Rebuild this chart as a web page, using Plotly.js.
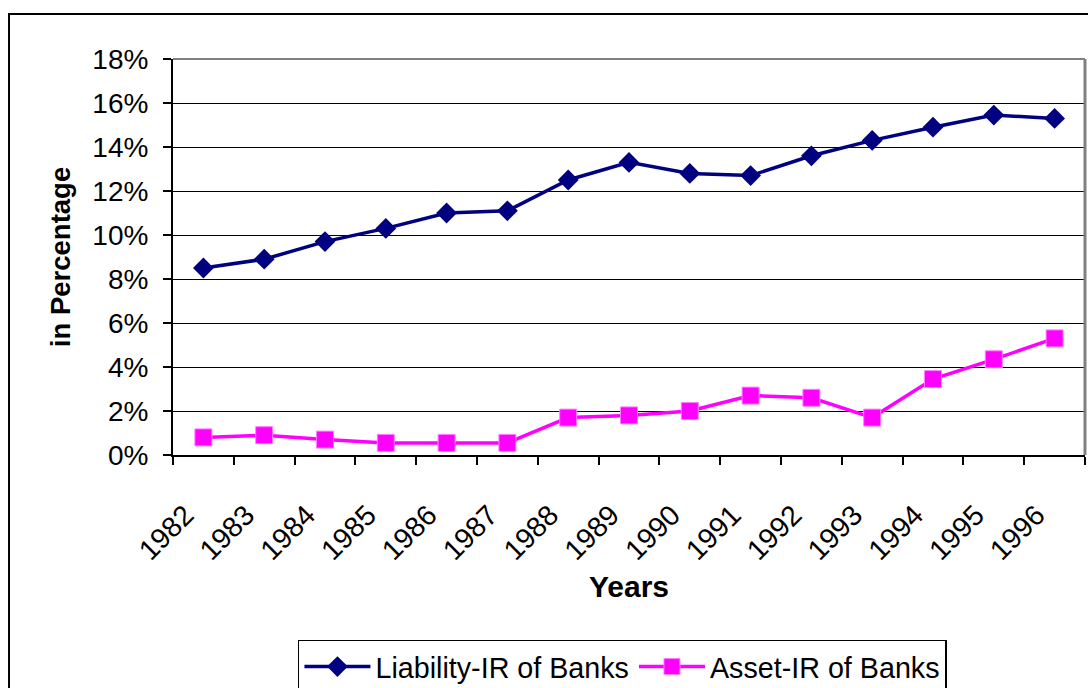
<!DOCTYPE html>
<html>
<head>
<meta charset="utf-8">
<script src="https://cdn.plot.ly/plotly-3.0.1.min.js"></script>
<style>html,body{margin:0;padding:0;background:#fff;}#chart{width:1088px;height:688px;}</style>
</head>
<body>
<div id="chart"></div>
<script>
const years = ["1982","1983","1984","1985","1986","1987","1988","1989","1990","1991","1992","1993","1994","1995","1996"];
const liabilityIR = [8.5, 8.9, 9.7, 10.3, 11.0, 11.1, 12.5, 13.3, 12.8, 12.7, 13.6, 14.3, 14.9, 15.45, 15.3];
const assetIR = [0.8, 0.9, 0.7, 0.55, 0.55, 0.55, 1.7, 1.8, 2.0, 2.7, 2.6, 1.7, 3.45, 4.35, 5.3];
const yTickVals = [0, 2, 4, 6, 8, 10, 12, 14, 16, 18];
const yTickText = yTickVals.map(v => v + "%");

const font = "Liberation Sans, Arial, sans-serif";

const traces = [
  {
    x: years, y: liabilityIR, name: "Liability-IR of Banks", type: "scatter", mode: "lines+markers",
    line: {color: "#000080", width: 3.5},
    marker: {symbol: "diamond", size: 16, color: "#000080"}
  },
  {
    x: years, y: assetIR, name: "Asset-IR of Banks", type: "scatter", mode: "lines+markers",
    line: {color: "#FF00FF", width: 3.5},
    marker: {symbol: "square", size: 17, color: "#FF00FF", line: {color: "#FF80FF", width: 1}}
  }
];

const layout = {
  width: 1088, height: 688,
  margin: {l: 173, r: 3, t: 59, b: 233, autoexpand: false},
  paper_bgcolor: "#ffffff", plot_bgcolor: "#ffffff",
  font: {family: font, color: "#000", size: 28},
  showlegend: true,
  legend: {
    orientation: "h", x: 0.137, y: -0.467, xanchor: "left", yanchor: "top",
    bordercolor: "#000", borderwidth: 1.5, bgcolor: "#fff",
    font: {family: font, size: 28.7, color: "#000"},
    itemwidth: 66, traceorder: "normal"
  },
  xaxis: {
    type: "category", range: [-0.5, 14.5],
    tickangle: -45, tickson: "boundaries", ticks: "outside", ticklen: 8, tickcolor: "#000", tickwidth: 2,
    ticklabelstandoff: 30, ticklabelshift: -18,
    showline: true, linecolor: "#000", linewidth: 2, mirror: false,
    showgrid: false, zeroline: false,
    tickfont: {family: font, size: 28.5, color: "#000"},
    title: {text: "<b>Years</b>", font: {family: font, size: 30, color: "#000"}, standoff: 11},
    automargin: false, fixedrange: true
  },
  yaxis: {
    range: [0, 18], tickvals: yTickVals, ticktext: yTickText,
    ticks: "outside", ticklen: 8, tickcolor: "#000", tickwidth: 2,
    ticklabelstandoff: 9,
    showline: true, linecolor: "#000", linewidth: 2,
    showgrid: true, gridcolor: "#000", gridwidth: 1, zeroline: false,
    tickfont: {family: font, size: 28, color: "#000"},
    title: {text: "<b>in Percentage</b>", font: {family: font, size: 27.5, color: "#000"}, standoff: 14},
    automargin: false, fixedrange: true
  },
  shapes: [
    {type: "rect", xref: "paper", yref: "paper", x0: -0.1798, x1: 1.02, y0: -0.75, y1: 1.1136,
     line: {color: "#000", width: 2}, fillcolor: "rgba(0,0,0,0)", layer: "below"},
    {type: "line", xref: "paper", yref: "paper", x0: 0, x1: 1, y0: 1, y1: 1, line: {color: "#808080", width: 2}},
    {type: "line", xref: "paper", yref: "paper", x0: 1, x1: 1, y0: 0, y1: 1, line: {color: "#808080", width: 3}}
  ]
};

Plotly.newPlot("chart", traces, layout, {displayModeBar: false, staticPlot: true});
</script>
</body>
</html>
